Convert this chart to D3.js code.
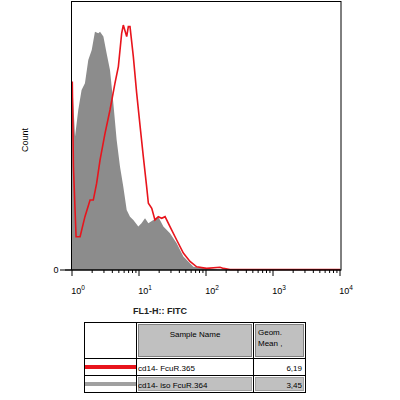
<!DOCTYPE html>
<html><head><meta charset="utf-8">
<script src="https://cdn.jsdelivr.net/npm/d3@7"></script>
<style>body{margin:0;background:#fff}svg{font-family:Arial,"Liberation Sans",sans-serif}</style>
</head><body><svg id="c" width="400" height="400"></svg>
<script>
const grayX=[1,1.01,1.11,1.24,1.39,1.56,1.75,1.97,2.20,2.47,2.62,2.94,3.29,3.69,4.14,4.64,5.20,5.83,6.55,7.34,8.23,9.77,10.9,12.3,13.8,16.4,19.4,23.1,29.0,36.5,45.9,64.8,102,162,10000];
const grayY=[0,69.7,49.8,59.7,67.2,69.7,78.4,82.1,88.9,88.3,88.9,87.1,80.8,74.6,62.2,48.5,38.6,31.1,22.4,19.9,18.7,16.2,17.4,19.3,17.4,18.7,19.9,16.2,13.7,10.0,5.0,1.2,0.6,0.2,0];
const redX=[1.01,1.05,1.15,1.32,1.56,1.86,2.08,2.33,2.62,3.11,3.69,4.38,4.92,5.51,5.83,6.55,6.93,7.34,8.23,9.23,10.4,11.6,13.0,13.8,15.5,17.3,19.4,21.8,24.5,29.0,36.5,45.9,57.7,72.6,102,162,182,228,10000];
const redY=[70.3,38.6,12.4,12.4,19.9,26.1,26.1,32.3,41.0,51.0,59.7,69.7,75.9,88.3,91.4,87.1,90.8,90.8,79.6,66.0,53.5,42.3,31.1,24.9,23.0,18.7,19.9,19.3,19.9,16.2,11.2,6.3,3.2,1.2,0.6,1.0,0.6,0.2,0.2];
const tickVals=[1,10,100,1000,10000];
const tickExp=["0","1","2","3","4"];
const tableHeader=["Sample Name","Geom. Mean ,"];
const samples=["cd14- FcuR.365","cd14- iso FcuR.364"];
const means=["6,19","3,45"];
const sampleColors=["#e8141c","#a0a0a0"];

const svg=d3.select("#c");
const x=d3.scaleLog().domain([1,10000]).range([72,340]);
const y=d3.scaleLinear().domain([0,100]).range([270,2]);

svg.append("path").datum(grayX.map((v,i)=>[v,grayY[i]]))
 .attr("d",d3.area().x(d=>x(d[0])).y0(y(0)).y1(d=>y(d[1])))
 .attr("fill","#8c8c8c");
svg.append("path").datum(redX.map((v,i)=>[v,redY[i]]))
 .attr("d",d3.line().x(d=>x(d[0])).y(d=>y(d[1])))
 .attr("fill","none").attr("stroke","#e8141c").attr("stroke-width",1.6);

svg.append("rect").attr("x",71.5).attr("y",1.5).attr("width",269.5).attr("height",268.5)
 .attr("fill","none").attr("stroke","#000");

// x axis minor ticks
const minor=[];for(let e=0;e<4;e++)for(let k=2;k<10;k++)minor.push(k*Math.pow(10,e));
const ax=svg.append("g").attr("transform","translate(0,270)");
ax.append("line").attr("x1",60).attr("x2",341).attr("stroke","#000");
ax.selectAll(".mn").data(minor).enter().append("line").attr("x1",d=>x(d)).attr("x2",d=>x(d)).attr("y1",0).attr("y2",3).attr("stroke","#000");
ax.selectAll(".mj").data(tickVals).enter().append("line").attr("x1",d=>x(d)).attr("x2",d=>x(d)).attr("y1",0).attr("y2",6).attr("stroke","#000");
const lab=ax.selectAll(".lb").data(tickVals).enter().append("text").attr("x",d=>x(d)+6).attr("y",24)
 .attr("text-anchor","middle").attr("font-size",9);
lab.append("tspan").text("10");
lab.append("tspan").attr("dy",-4).attr("font-size",6.5).text((d,i)=>tickExp[i]);
svg.append("text").attr("x",56).attr("y",273).attr("text-anchor","middle").attr("font-size",9).text("0");
svg.append("line").attr("x1",65).attr("x2",71).attr("y1",270).attr("y2",270).attr("stroke","#000");
svg.append("text").attr("transform","translate(28,140) rotate(-90)").attr("text-anchor","middle").attr("font-size",9).text("Count");
svg.append("text").attr("x",160).attr("y",314).attr("text-anchor","middle").attr("font-size",9).attr("font-weight","bold").attr("fill","#222").text("FL1-H:: FITC");

// table
const t=svg.append("g");
t.append("rect").attr("x",84.5).attr("y",322.5).attr("width",221).attr("height",70).attr("fill","#fff").attr("stroke","#000");
const cols=[84.5,136.5,253.5,305.5], rows=[322.5,358.5,375.5,392.5];
[1,2].forEach(c=>{
  t.append("rect").attr("x",cols[c]+2).attr("y",rows[0]+2).attr("width",cols[c+1]-cols[c]-4).attr("height",rows[1]-rows[0]-4).attr("fill","#c0c0c0").attr("stroke","#808080");
  t.append("rect").attr("x",cols[c]+2).attr("y",rows[2]+2).attr("width",cols[c+1]-cols[c]-4).attr("height",rows[3]-rows[2]-4).attr("fill","#c0c0c0").attr("stroke","#a0a0a0");
});
cols.slice(1,3).forEach(c=>t.append("line").attr("x1",c).attr("x2",c).attr("y1",322.5).attr("y2",392.5).attr("stroke","#000"));
rows.slice(1,3).forEach(r=>t.append("line").attr("x1",84.5).attr("x2",305.5).attr("y1",r).attr("y2",r).attr("stroke","#000"));
t.append("text").attr("x",195).attr("y",337).attr("text-anchor","middle").attr("font-size",8).text(tableHeader[0]);
t.append("text").attr("x",258).attr("y",335).attr("font-size",8).text("Geom.");
t.append("text").attr("x",258).attr("y",346).attr("font-size",8).text("Mean ,");
samples.forEach((s,i)=>{
  const yy=rows[i+1]+12;
  t.append("line").attr("x1",85).attr("x2",136).attr("y1",rows[i+1]+8.5).attr("y2",rows[i+1]+8.5).attr("stroke",sampleColors[i]).attr("stroke-width",4);
  t.append("text").attr("x",138).attr("y",yy).attr("font-size",8).text(s);
  t.append("text").attr("x",302).attr("y",yy).attr("text-anchor","end").attr("font-size",8).text(means[i]);
});
</script></body></html>
